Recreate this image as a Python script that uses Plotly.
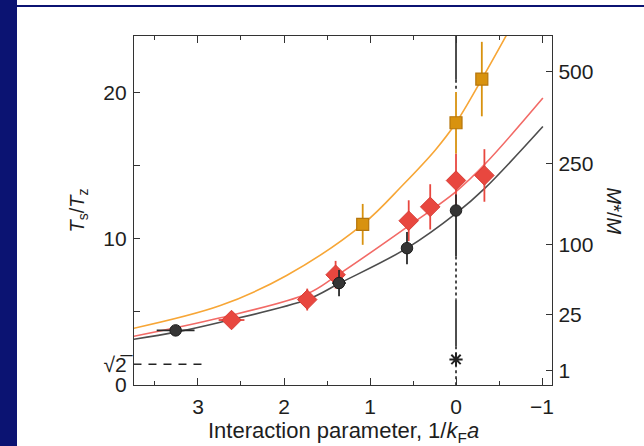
import numpy as np
import plotly.graph_objects as go

# ---------------- data ----------------
# fit curves
black_curve_x = [3.75, 3.26, 2.74, 1.73, 1.36, 0.57, 0.0, -0.34, -1.01]
black_curve_y = [3.13, 3.62, 4.30, 5.85, 6.95, 9.37, 11.75, 13.5, 17.7]
red_curve_x = [3.75, 2.74, 1.73, 1.40, 0.55, 0.0, -0.34, -1.01]
red_curve_y = [3.33, 4.60, 6.25, 7.44, 10.9, 13.25, 15.15, 19.65]
orange_curve_x = [3.75, 2.74, 1.97, 1.085, 0.61, 0.24, 0.0, -0.30, -0.60]
orange_curve_y = [3.88, 5.44, 7.50, 11.0, 13.75, 16.1, 17.96, 20.95, 24.1]

# measured points
black_x = [3.26, 1.36, 0.57, 0.0]
black_y = [3.74, 6.98, 9.37, 11.95]
black_yerr_plus = [0.0, 0.9, 1.1, 1.1]
black_yerr_minus = [0.0, 0.9, 1.1, 3.15]
black_xerr = [0.22, 0.08, 0.0, 0.0]

red_x = [2.61, 1.73, 1.40, 0.55, 0.30, 0.0, -0.33]
red_y = [4.45, 5.85, 7.55, 11.25, 12.2, 14.0, 14.35]
red_yerr = [0.3, 0.75, 0.95, 1.4, 1.55, 1.85, 1.8]
red_xerr = [0.15, 0.08, 0.0, 0.0, 0.0, 0.0, 0.0]

orange_x = [1.085, 0.0, -0.30]
orange_y = [11.0, 17.96, 20.95]
orange_yerr = [1.4, 2.1, 2.55]
orange_xerr = [0.06, 0.0, 0.0]

# vertical marker line at 1/kFa = 0
zero_solid_top = [23.9, 20.9]
zero_dot_top = [20.9, 20.1]
zero_dot_mid = [8.8, 5.85]
zero_solid_low = [5.85, 2.65]
zero_dot_low = [2.65, 0.0]
star_y = [1.75]

# sqrt(2) reference
sqrt2_x = [3.75, 2.95]
sqrt2_y = [np.sqrt(2), np.sqrt(2)]

# axis ticks
left_tickvals = [0, np.sqrt(2), 5, 10, 15, 20]
left_ticktext = ["0", "√2\u0305", "", "10", "", "20"]
right_tick_values = [1, 25, 100, 250, 500]
right_ticktext = ["1", "25", "100", "250", "500"]
x_tickvals = [3, 2, 1, 0, -1]

# ---------------- styles ----------------
FONT = "Liberation Sans, Arial, sans-serif"
TXT = "#1e1e1e"
BLACK_C = "#4d4d4d"
RED_C = "#f26a66"
ORANGE_C = "#f7a636"
BLACK_M = "#353535"
RED_M = "#e8473f"
ORANGE_M = "#d8920f"

fig = go.Figure()

# curves
fig.add_trace(go.Scatter(x=black_curve_x, y=black_curve_y, mode="lines",
                         line=dict(color=BLACK_C, width=1.6, shape="spline"),
                         hoverinfo="skip", showlegend=False))
fig.add_trace(go.Scatter(x=red_curve_x, y=red_curve_y, mode="lines",
                         line=dict(color=RED_C, width=1.6, shape="spline"),
                         hoverinfo="skip", showlegend=False))
fig.add_trace(go.Scatter(x=orange_curve_x, y=orange_curve_y, mode="lines",
                         line=dict(color=ORANGE_C, width=1.6, shape="spline"),
                         hoverinfo="skip", showlegend=False))

# sqrt(2) dashed line
fig.add_trace(go.Scatter(x=sqrt2_x, y=sqrt2_y, mode="lines",
                         line=dict(color="#222", width=1.5, dash="8px,7px"),
                         hoverinfo="skip", showlegend=False))

# vertical line at 0
for seg, dash in [(zero_solid_top, "solid"), (zero_dot_top, "dot"),
                  (zero_dot_mid, "dot"), (zero_solid_low, "solid"),
                  (zero_dot_low, "dot")]:
    fig.add_trace(go.Scatter(x=[0, 0], y=seg, mode="lines",
                             line=dict(color="#222", width=1.6, dash=dash),
                             hoverinfo="skip", showlegend=False))
fig.add_trace(go.Scatter(x=[0], y=star_y, mode="markers",
                         marker=dict(symbol="asterisk-open", size=11, color="#222",
                                     line=dict(color="#222", width=2)),
                         hoverinfo="skip", showlegend=False))

# red diamonds
fig.add_trace(go.Scatter(x=red_x, y=red_y, mode="markers",
                         marker=dict(symbol="diamond", size=15, color=RED_M,
                                     line=dict(color="#d83c35", width=1)),
                         error_y=dict(type="data", array=red_yerr, color=RED_M,
                                      thickness=1.8, width=0),
                         error_x=dict(type="data", array=red_xerr, color=RED_M,
                                      thickness=1.8, width=0),
                         showlegend=False))
# black circles
fig.add_trace(go.Scatter(x=black_x, y=black_y, mode="markers",
                         marker=dict(symbol="circle", size=11.5, color=BLACK_M,
                                     line=dict(color="#1e1e1e", width=1)),
                         error_y=dict(type="data", array=black_yerr_plus,
                                      arrayminus=black_yerr_minus, symmetric=False,
                                      color="#2a2a2a", thickness=1.8, width=0),
                         error_x=dict(type="data", array=black_xerr, color="#2a2a2a",
                                      thickness=1.8, width=0),
                         showlegend=False))
# orange squares
fig.add_trace(go.Scatter(x=orange_x, y=orange_y, mode="markers",
                         marker=dict(symbol="square", size=12, color=ORANGE_M,
                                     line=dict(color="#b5760c", width=1.2)),
                         error_y=dict(type="data", array=orange_yerr, color=ORANGE_M,
                                      thickness=1.8, width=0),
                         error_x=dict(type="data", array=orange_xerr, color=ORANGE_M,
                                      thickness=1.8, width=0),
                         showlegend=False))

# invisible trace to activate right axis
fig.add_trace(go.Scatter(x=[0], y=[0], yaxis="y2", mode="markers",
                         marker=dict(opacity=0), hoverinfo="skip", showlegend=False))

XR = [3.744, -1.116]
YR = [0, 23.9]
axis_common = dict(showline=True, linecolor="#333", linewidth=1.4,
                   ticks="inside", tickcolor="#333", tickwidth=1.4,
                   showgrid=False, zeroline=False,
                   tickfont=dict(family=FONT, size=21, color=TXT))

fig.update_layout(
    width=644, height=446,
    margin=dict(l=134, r=92, t=36, b=61),
    paper_bgcolor="white", plot_bgcolor="white",
    xaxis=dict(range=XR, tickvals=x_tickvals, ticklen=7, mirror="ticks",
               minor=dict(ticks="inside", dtick=0.5, tick0=0, ticklen=4,
                          tickcolor="#333", tickwidth=1.4),
               ticklabelstandoff=3, **axis_common),
    yaxis=dict(range=YR, tickvals=left_tickvals, ticktext=left_ticktext,
               ticklen=6, ticklabelstandoff=2, **axis_common),
    yaxis2=dict(range=YR, overlaying="y", side="right",
                tickvals=[0.96 * np.sqrt(v) for v in right_tick_values],
                ticktext=right_ticktext, ticklen=6, ticklabelstandoff=1,
                **axis_common),
    annotations=[
        dict(text="Interaction parameter, 1/<i>k</i><sub>F</sub><i>a</i>",
             xref="paper", yref="paper", x=0.5, y=0, yshift=-47,
             xanchor="center", yanchor="middle", showarrow=False,
             font=dict(family=FONT, size=22, color=TXT)),
        dict(text="<i>T</i><sub>s</sub>/<i>T</i><sub>z</sub>",
             xref="paper", yref="paper", x=0, y=0.5, xshift=-56, yshift=0,
             textangle=-90, xanchor="center", yanchor="middle", showarrow=False,
             font=dict(family=FONT, size=20, color=TXT)),
        dict(text="<i>M</i>*/<i>M</i>",
             xref="paper", yref="paper", x=1, y=0.5, xshift=62, yshift=0,
             textangle=90, xanchor="center", yanchor="middle", showarrow=False,
             font=dict(family=FONT, size=20, color=TXT)),
    ],
    shapes=[
        dict(type="rect", xref="paper", yref="paper", layer="above",
             xsizemode="pixel", ysizemode="pixel", xanchor=0, yanchor=1,
             x0=-134, x1=-117, y0=36, y1=-420,
             fillcolor="#0b1372", line=dict(width=0)),
        dict(type="rect", xref="paper", yref="paper", layer="above",
             xsizemode="pixel", ysizemode="pixel", xanchor=0, yanchor=1,
             x0=-134, x1=520, y0=29, y1=31,
             fillcolor="#0b1372", line=dict(width=0)),
    ],
)

fig.write_html("out.html",
               config={"displayModeBar": False},
               post_script="document.body.style.margin='0';"
                           "document.body.style.overflow='hidden';")
